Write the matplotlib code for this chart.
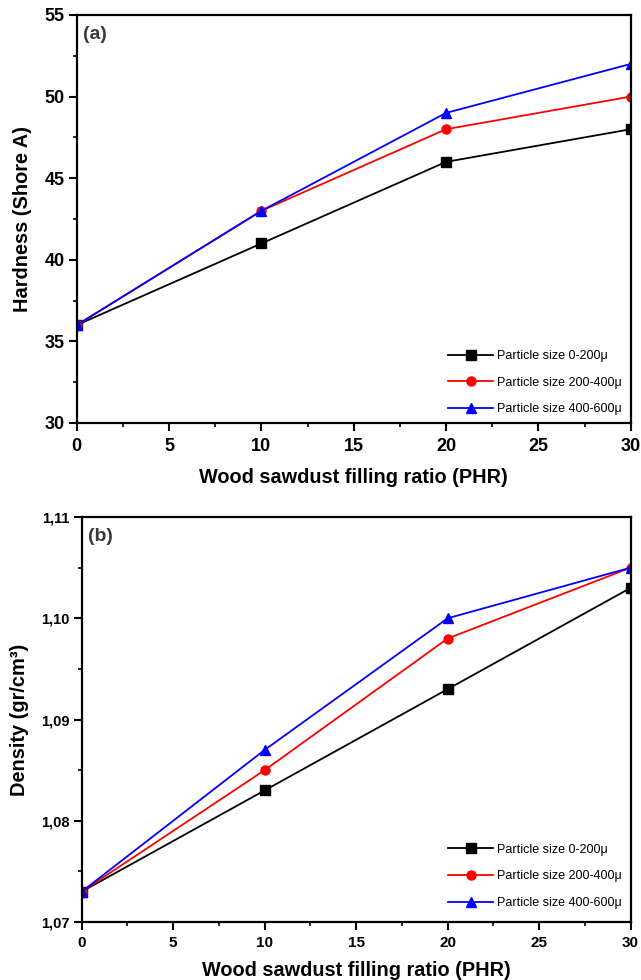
import matplotlib
matplotlib.use('Agg')
import matplotlib.pyplot as plt
from matplotlib.ticker import MultipleLocator, FuncFormatter

plt.rcParams['font.family'] = ['Liberation Sans', 'DejaVu Sans']
plt.rcParams['font.weight'] = 'bold'

filling = [0, 10, 20, 30]
labels = ['Particle size 0-200μ', 'Particle size 200-400μ', 'Particle size 400-600μ']

hard_0_200 = [36, 41, 46, 48]
hard_200_400 = [36, 43, 48, 50]
hard_400_600 = [36, 43, 49, 52]

dens_0_200 = [1.073, 1.083, 1.093, 1.103]
dens_200_400 = [1.073, 1.085, 1.098, 1.105]
dens_400_600 = [1.073, 1.087, 1.100, 1.105]

colors = ['black', 'red', 'blue']
markers = ['s', 'o', '^']

fig = plt.figure(figsize=(6.41, 9.8), dpi=100)
ax1 = fig.add_axes([0.1197, 1 - 423 / 980, 0.9839 - 0.1197, (423 - 15) / 980])
ax2 = fig.add_axes([0.1275, 1 - 922 / 980, 0.9839 - 0.1275, (922 - 517) / 980])


def style(ax, ylabel, tag, xsize, ysize, legend_y, xpad, xlabpad):
    for sp in ax.spines.values():
        sp.set_linewidth(1.6)
    ax.set_xlim(0, 30)
    ax.xaxis.set_major_locator(MultipleLocator(5))
    ax.xaxis.set_minor_locator(MultipleLocator(2.5))
    ax.tick_params(which='major', direction='out', length=5.5, width=1.5,
                   pad=3, top=False, right=False)
    ax.tick_params(which='minor', direction='out', length=3, width=1.2,
                   top=False, right=False)
    ax.tick_params(axis='x', labelsize=xsize, pad=xpad)
    ax.tick_params(axis='y', labelsize=ysize)
    ax.set_xlabel('Wood sawdust filling ratio (PHR)', fontsize=14.3,
                  fontweight='bold', labelpad=xlabpad)
    ax.set_ylabel(ylabel, fontsize=14.4, fontweight='bold', labelpad=9)
    ax.text(0.011, 0.972, tag, transform=ax.transAxes, fontsize=14,
            fontweight='bold', color='#3a3a3a', va='top', ha='left')
    ax.legend(loc='lower right', bbox_to_anchor=(1.0, legend_y), frameon=False,
              prop={'size': 9, 'weight': 'normal'},
              handlelength=3.6, labelspacing=1.18, borderaxespad=0.3,
              handletextpad=0.3)


series_h = [hard_0_200, hard_200_400, hard_400_600]
for ys, c, m, lab in zip(series_h, colors, markers, labels):
    ax1.plot(filling, ys, color=c, marker=m, markersize=6.5, linewidth=1.3, label=lab)
ax1.set_ylim(30, 55)
ax1.yaxis.set_major_locator(MultipleLocator(5))
ax1.yaxis.set_minor_locator(MultipleLocator(2.5))
style(ax1, 'Hardness (Shore A)', '(a)', 13, 13, -0.003, 5.5, 9)

series_d = [dens_0_200, dens_200_400, dens_400_600]
for ys, c, m, lab in zip(series_d, colors, markers, labels):
    ax2.plot(filling, ys, color=c, marker=m, markersize=6.5, linewidth=1.3, label=lab)
ax2.set_ylim(1.07, 1.11)
ax2.yaxis.set_major_locator(MultipleLocator(0.01))
ax2.yaxis.set_minor_locator(MultipleLocator(0.005))
ax2.yaxis.set_major_formatter(FuncFormatter(lambda v, p: f'{v:.2f}'.replace('.', ',')))
style(ax2, 'Density (gr/cm³)', '(b)', 11, 10.5, 0.01, 4.5, 8)

fig.savefig('out.png', dpi=100)
